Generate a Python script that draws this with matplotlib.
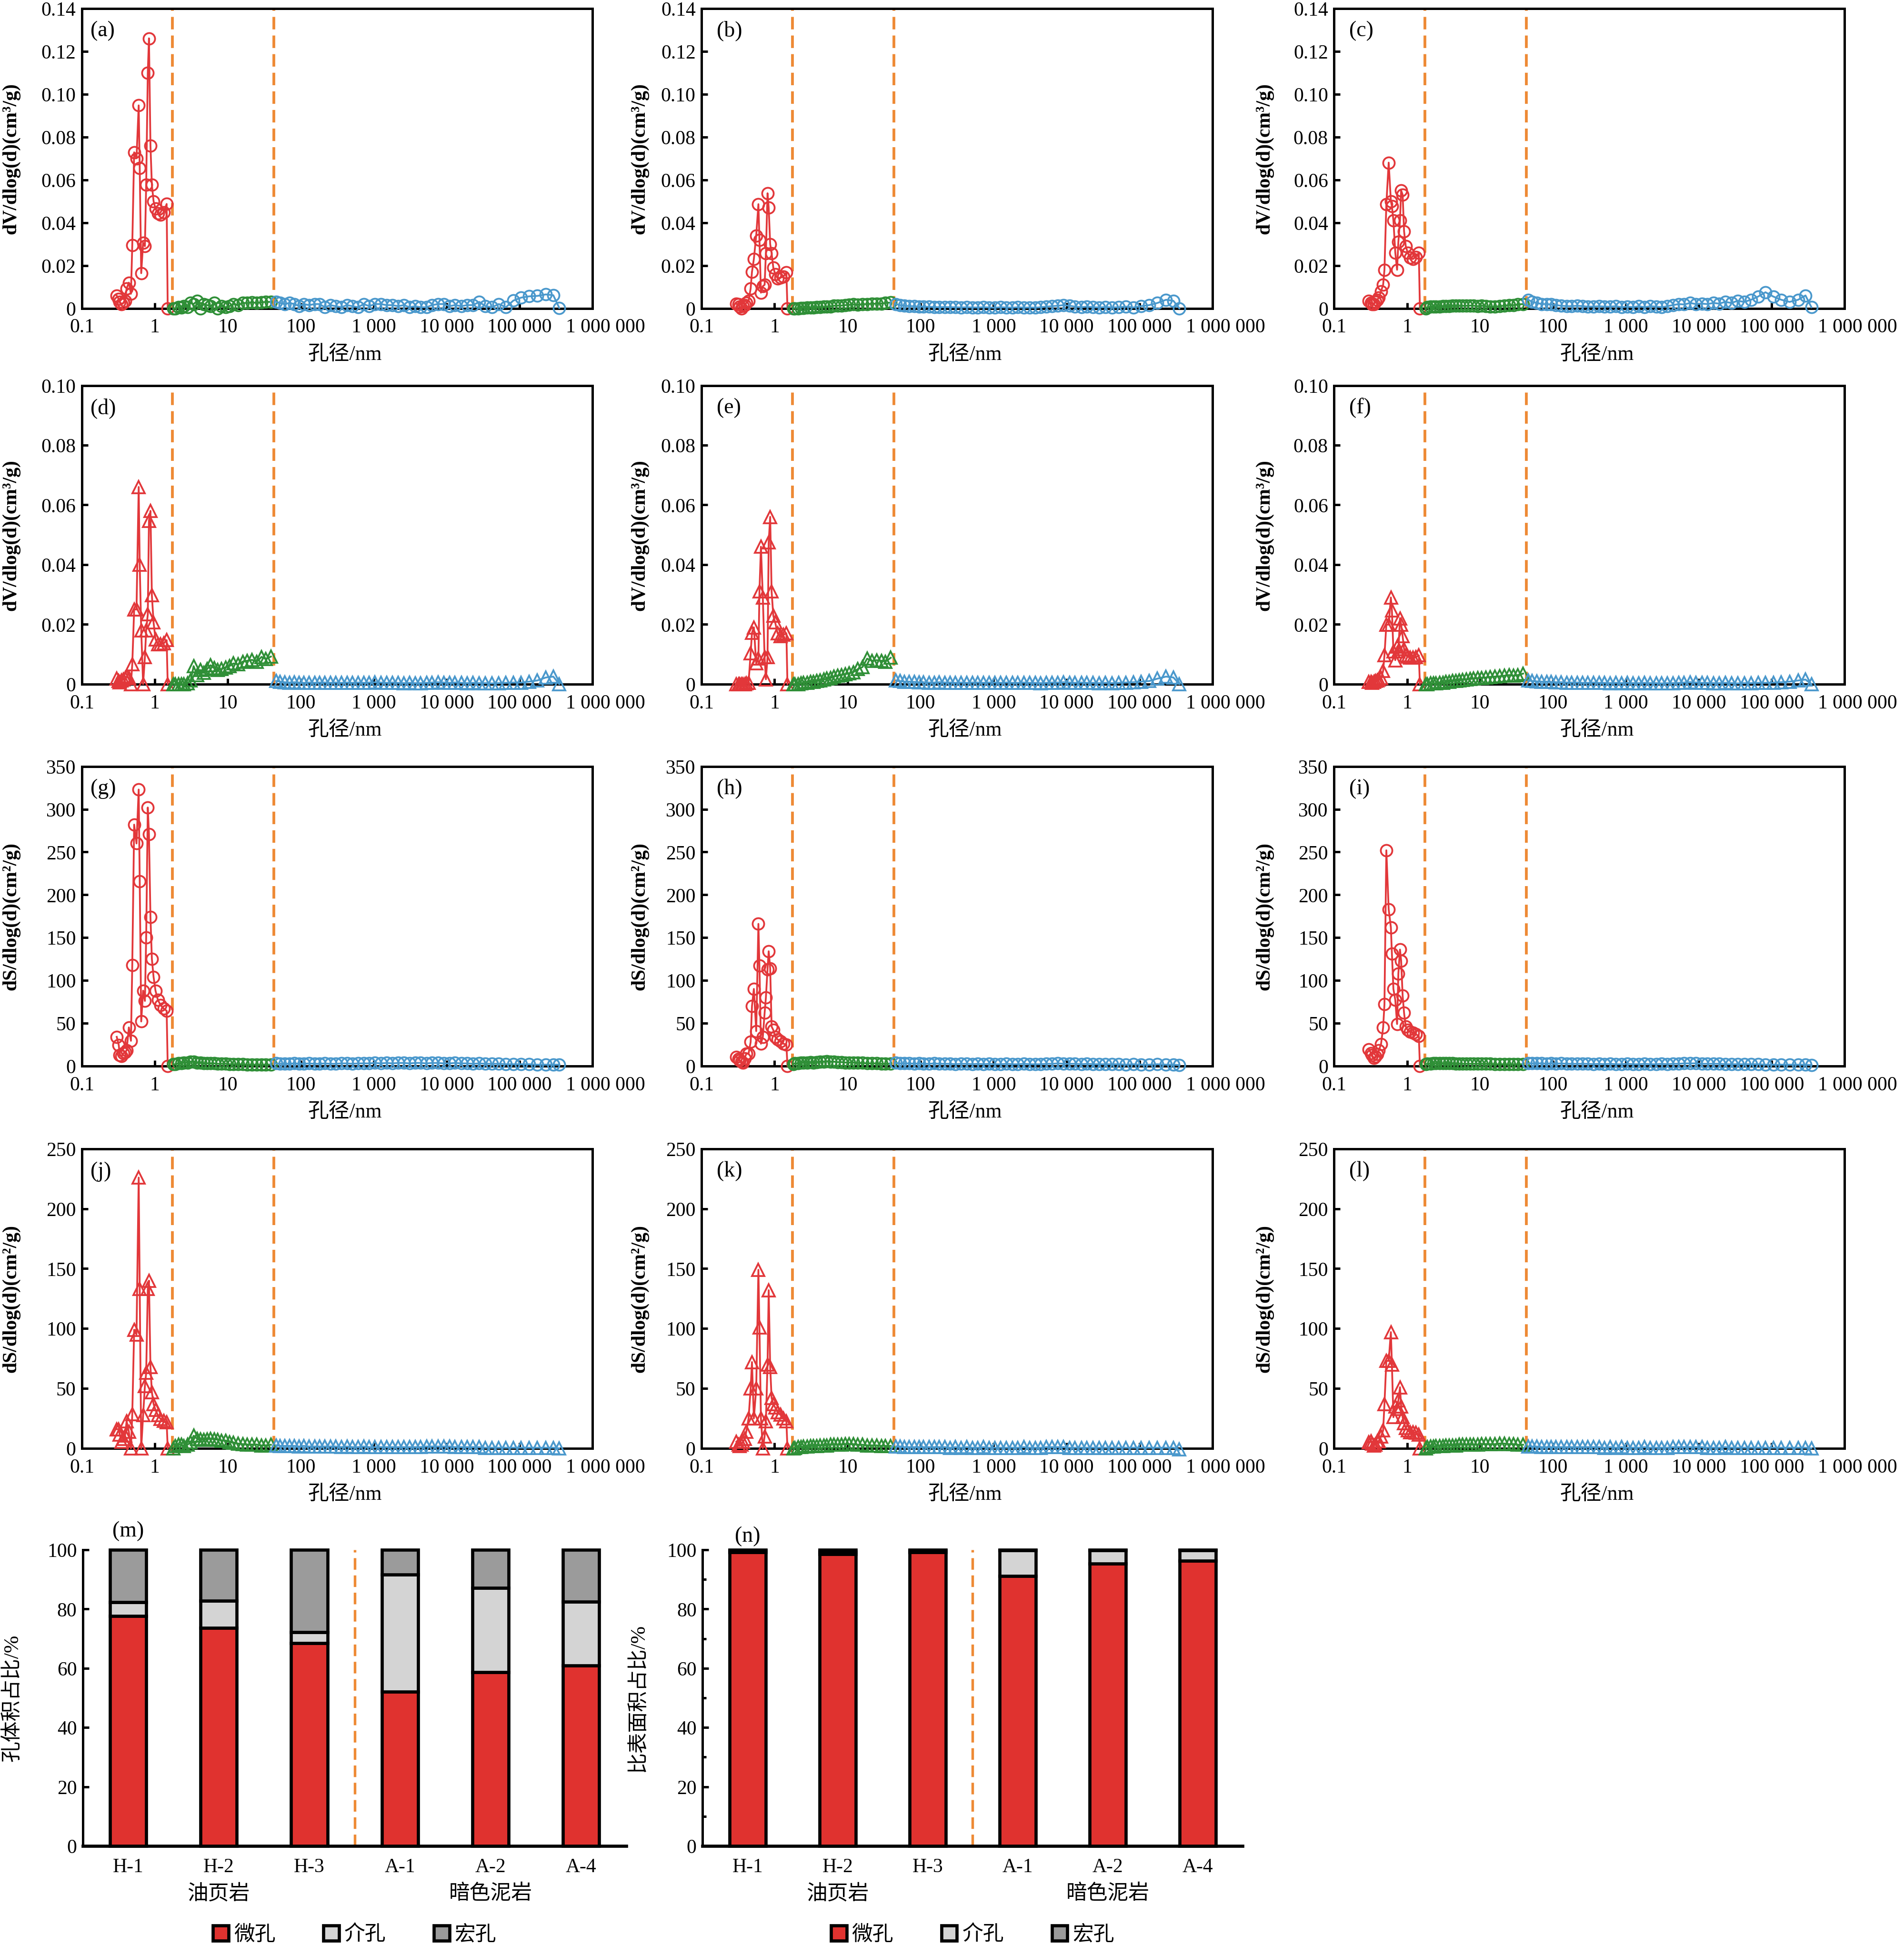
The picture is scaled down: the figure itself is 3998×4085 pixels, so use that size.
import numpy as np
import matplotlib
matplotlib.use('Agg')
import matplotlib.pyplot as plt
from matplotlib.patches import Patch
from matplotlib.ticker import NullLocator, MultipleLocator
import matplotlib.transforms as mtransforms

# fonts: Times-like latin, CJK fallback
plt.rcParams['font.family'] = ['Liberation Serif', 'Noto Sans CJK SC']
plt.rcParams['font.size'] = 10
plt.rcParams['axes.linewidth'] = 1.2
plt.rcParams['axes.unicode_minus'] = False

red = '#E2373A'
green = '#2F8F37'
blue = '#4A98CC'
orange = '#EE8A35'
bar_red = '#E0322F'
bar_light = '#D4D4D4'
bar_dark = '#9B9B9B'

# ---------------- data: pore size distributions ----------------
red_x = [0.30, 0.32, 0.33, 0.35, 0.37, 0.39, 0.41, 0.44, 0.47, 0.49, 0.52, 0.56, 0.60, 0.62, 0.65,
         0.69, 0.73, 0.76, 0.80, 0.83, 0.87, 0.91, 0.96, 1.02, 1.10, 1.20, 1.32, 1.45, 1.50]
green_x = [1.8, 1.9, 2.1, 2.3, 2.5, 2.8, 3.1, 3.4, 3.8, 4.2, 4.7, 5.2, 5.8, 6.5, 7.3, 8.2, 9.3,
           10.5, 12, 13.8, 16, 18.5, 21.5, 25, 29, 33, 39]
blue_x = [46, 52, 60, 70, 82, 95, 110, 130, 155, 180, 215, 255, 300, 360, 430, 510, 610, 730, 870,
          1040, 1250, 1500, 1800, 2150, 2600, 3100, 3700, 4400, 5300, 6300, 7600, 9100, 11000, 13000,
          16000, 19000, 23000, 28000, 34000, 42000, 52000, 65000, 82000, 105000, 135000, 175000,
          230000, 290000, 350000]

# (a) H-1 dV
a_red = [0.0059, 0.0043, 0.0030, 0.0020, 0.0025, 0.0034, 0.0093, 0.0120, 0.0068, 0.0295, 0.0728, 0.0700,
         0.0947, 0.0655, 0.0164, 0.0306, 0.0290, 0.0576, 0.1100, 0.1260, 0.0760, 0.0576, 0.0500, 0.0465,
         0.0444, 0.0436, 0.0447, 0.0487, 0.0]
a_green = [0.0, 0.0, 0.0005, 0.0003, 0.0010, 0.0005, 0.0025, 0.0020, 0.0035, 0.0, 0.0020, 0.0015, 0.0010,
           0.0025, 0.0, 0.0010, 0.0005, 0.0010, 0.0020, 0.0015, 0.0025, 0.0025, 0.0028, 0.0025, 0.0028,
           0.0030, 0.0030]
a_blue = [0.0030, 0.0025, 0.0020, 0.0025, 0.0020, 0.0010, 0.0020, 0.0015, 0.0020, 0.0020,
          0.0005, 0.0015, 0.0010, 0.0005, 0.0015, 0.0010, 0.0005, 0.0020, 0.0010, 0.0020,
          0.0020, 0.0015, 0.0015, 0.0010, 0.0015, 0.0005, 0.0010, 0.0005, 0.0005, 0.0015,
          0.0020, 0.0020, 0.0010, 0.0015, 0.0010, 0.0015, 0.0015, 0.0030, 0.0010, 0.0005,
          0.0020, 0.0005, 0.0036, 0.0050, 0.0056, 0.0058, 0.0065, 0.0061, 0.0002]
# (b) H-2 dV
b_red = [0.0021, 0.0020, 0.0008, 0.0, 0.0010, 0.0015, 0.0025, 0.0035, 0.0093, 0.0170, 0.0230, 0.0340,
         0.0486, 0.0320, 0.0073, 0.0103, 0.0110, 0.0257, 0.0537, 0.0470, 0.0300, 0.0257, 0.0190, 0.0160,
         0.0140, 0.0143, 0.0148, 0.0167, 0.0]
b_green = [0.0, 0.0, 0.0, 0.0002, 0.0002, 0.0003, 0.0004, 0.0004, 0.0005, 0.0006, 0.0007, 0.0008, 0.0009,
           0.0012, 0.0013, 0.0013, 0.0015, 0.0016, 0.0018, 0.0017, 0.0019, 0.0020, 0.0021, 0.0022, 0.0022,
           0.0025, 0.0027]
b_blue = [0.0020, 0.0015, 0.0012, 0.0010, 0.0010, 0.0008, 0.0008, 0.0007, 0.0006, 0.0005,
          0.0006, 0.0005, 0.0005, 0.0004, 0.0005, 0.0004, 0.0004, 0.0005, 0.0004, 0.0003,
          0.0005, 0.0004, 0.0003, 0.0005, 0.0003, 0.0004, 0.0003, 0.0005, 0.0008, 0.0010,
          0.0012, 0.0015, 0.0012, 0.0008, 0.0005, 0.0008, 0.0005, 0.0004, 0.0006, 0.0004,
          0.0005, 0.0008, 0.0004, 0.0010, 0.0015, 0.0025, 0.0040, 0.0035, 0.0]
# (c) H-3 dV
c_red = [0.0035, 0.0025, 0.0020, 0.0020, 0.0030, 0.0040, 0.0050, 0.0080, 0.0110, 0.0180, 0.0486, 0.0680,
         0.0500, 0.0476, 0.0410, 0.0260, 0.0180, 0.0310, 0.0410, 0.0550, 0.0530, 0.0360, 0.0290, 0.0260,
         0.0236, 0.0230, 0.0240, 0.0260, 0.0]
c_green = [0.0, 0.0005, 0.0008, 0.0008, 0.0008, 0.0008, 0.0010, 0.0010, 0.0010, 0.0012, 0.0012, 0.0012,
           0.0012, 0.0012, 0.0013, 0.0012, 0.0010, 0.0012, 0.0010, 0.0008, 0.0008, 0.0010, 0.0012, 0.0015,
           0.0015, 0.0018, 0.0020]
c_blue = [0.0040, 0.0030, 0.0025, 0.0020, 0.0020, 0.0018, 0.0015, 0.0012, 0.0010, 0.0010,
          0.0012, 0.0010, 0.0008, 0.0008, 0.0010, 0.0008, 0.0008, 0.0010, 0.0005, 0.0008,
          0.0005, 0.0010, 0.0005, 0.0010, 0.0008, 0.0005, 0.0010, 0.0015, 0.0020, 0.0018,
          0.0025, 0.0020, 0.0022, 0.0020, 0.0025, 0.0022, 0.0030, 0.0025, 0.0035, 0.0030,
          0.0040, 0.0055, 0.0075, 0.0055, 0.0040, 0.0030, 0.0040, 0.0060, 0.0005]
# (d) A-1 dV
d_red = [0.0019, 0.0010, 0.0006, 0.0012, 0.0015, 0.0020, 0.0025, 0.0020, 0.0, 0.0066, 0.0250, 0.0250,
         0.0660, 0.0400, 0.0180, 0.0, 0.0090, 0.0180, 0.0234, 0.0547, 0.0580, 0.0297, 0.0206, 0.0150,
         0.0134, 0.0134, 0.0136, 0.0147, 0.0]
d_green = [0.0, 0.0, 0.0, 0.0, 0.0, 0.0003, 0.0012, 0.0060, 0.0030, 0.0047, 0.0037, 0.0050, 0.0063,
           0.0053, 0.0047, 0.0050, 0.0056, 0.0060, 0.0069, 0.0066, 0.0075, 0.0078, 0.0081, 0.0075, 0.0091,
           0.0084, 0.0092]
d_blue = [0.0010, 0.0008, 0.0006, 0.0005, 0.0006, 0.0005, 0.0004, 0.0005, 0.0004, 0.0005,
          0.0005, 0.0004, 0.0005, 0.0004, 0.0005, 0.0004, 0.0005, 0.0004, 0.0005, 0.0006,
          0.0005, 0.0004, 0.0005, 0.0004, 0.0003, 0.0004, 0.0003, 0.0003, 0.0004, 0.0005,
          0.0006, 0.0005, 0.0004, 0.0005, 0.0004, 0.0003, 0.0004, 0.0003, 0.0003, 0.0002,
          0.0003, 0.0004, 0.0005, 0.0005, 0.0008, 0.0012, 0.0022, 0.0025, 0.0]
# (e) A-2 dV
e_red = [0.0, 0.0, 0.0, 0.0, 0.0, 0.0, 0.0003, 0.0005, 0.0103, 0.0171, 0.0190, 0.0069, 0.0085, 0.0310,
         0.0460, 0.0290, 0.0090, 0.0016, 0.0090, 0.0475, 0.0560, 0.0310, 0.0229, 0.0206, 0.0170, 0.0160,
         0.0165, 0.0170, 0.0]
e_green = [0.0, 0.0, 0.0, 0.0003, 0.0005, 0.0005, 0.0007, 0.0008, 0.0010, 0.0012, 0.0015, 0.0018, 0.0020,
           0.0025, 0.0028, 0.0030, 0.0033, 0.0036, 0.0040, 0.0050, 0.0057, 0.0085, 0.0078, 0.0080, 0.0078,
           0.0075, 0.0088]
e_blue = [0.0012, 0.0010, 0.0008, 0.0008, 0.0007, 0.0006, 0.0006, 0.0005, 0.0005, 0.0006,
          0.0005, 0.0005, 0.0004, 0.0005, 0.0004, 0.0005, 0.0005, 0.0004, 0.0005, 0.0005,
          0.0004, 0.0005, 0.0004, 0.0004, 0.0005, 0.0004, 0.0004, 0.0003, 0.0004, 0.0005,
          0.0005, 0.0006, 0.0005, 0.0004, 0.0005, 0.0004, 0.0004, 0.0003, 0.0004, 0.0003,
          0.0004, 0.0005, 0.0006, 0.0008, 0.0010, 0.0018, 0.0025, 0.0022, 0.0]
# (f) A-4 dV
f_red = [0.0007, 0.0007, 0.0005, 0.0007, 0.0010, 0.0012, 0.0015, 0.0020, 0.0044, 0.0096, 0.0199, 0.0199,
         0.0290, 0.0246, 0.0110, 0.0080, 0.0125, 0.0110, 0.0220, 0.0199, 0.0160, 0.0118, 0.0096, 0.0092,
         0.0088, 0.0088, 0.0090, 0.0096, 0.0]
f_green = [0.0, 0.0, 0.0002, 0.0002, 0.0003, 0.0004, 0.0005, 0.0007, 0.0008, 0.0010, 0.0011, 0.0012,
           0.0014, 0.0015, 0.0017, 0.0018, 0.0020, 0.0021, 0.0022, 0.0024, 0.0025, 0.0026, 0.0028, 0.0030,
           0.0028, 0.0030, 0.0035]
f_blue = [0.0012, 0.0010, 0.0009, 0.0008, 0.0008, 0.0007, 0.0006, 0.0006, 0.0005, 0.0005,
          0.0005, 0.0004, 0.0004, 0.0005, 0.0004, 0.0004, 0.0003, 0.0004, 0.0003, 0.0004,
          0.0003, 0.0003, 0.0004, 0.0003, 0.0003, 0.0002, 0.0003, 0.0003, 0.0004, 0.0005,
          0.0006, 0.0005, 0.0004, 0.0004, 0.0003, 0.0003, 0.0004, 0.0003, 0.0002, 0.0003,
          0.0003, 0.0004, 0.0004, 0.0005, 0.0006, 0.0008, 0.0012, 0.0015, 0.0]
# (g) H-1 dS
g_red = [34, 24.4, 12.4, 11.3, 14.7, 16, 18.1, 45, 29.4, 118, 282, 260, 323, 216, 52, 88, 76, 150, 302,
         271, 174, 125, 104, 88, 77, 71, 67, 64.5, 0]
g_green = [2, 2, 3, 3, 4, 4, 5, 5, 4, 4, 3, 3, 3, 3, 2.5, 2.5, 2.5, 2, 2, 2, 2, 1.5, 1.5, 1.5, 1.5, 1.5, 1.5]
g_blue = [3, 2.5, 2.5, 2.5, 3, 2.5, 2.5, 3, 2.5, 2.5,
          3, 2.5, 2.5, 3, 3, 2.5, 3, 3, 3, 3.5,
          3, 3.5, 3, 3.5, 3.5, 3, 3.5, 3.5, 3, 3.5,
          3.5, 3, 3, 3.5, 3, 3, 2.5, 3, 2.5, 2.5,
          2.5, 2, 2, 2, 2, 1.5, 1.5, 1.5, 1.5]
# (h) H-2 dS
h_red = [10.4, 8, 6.4, 5, 4, 9, 14.4, 14.4, 28, 70, 90, 40.7, 166, 117, 26, 34, 62, 80, 113, 134, 114,
         46, 42, 34, 31, 29, 26, 25, 0]
h_green = [2, 3, 3, 3.5, 4, 4, 4.5, 4, 4.5, 5, 5, 5.5, 5, 5, 4.5, 4.5, 4, 4, 4, 3.5, 3.5, 3, 3, 3, 2.5,
           2.5, 2.5]
h_blue = [3.5, 3, 3, 3, 2.5, 3, 2.5, 2.5, 3, 2.5,
          2.5, 2.5, 2, 2.5, 2.5, 2, 2.5, 2, 2.5, 2,
          2, 2.5, 2, 2, 2.5, 2, 2, 2, 2.5, 2.5,
          3, 2.5, 2.5, 2.5, 2, 2.5, 2, 2, 2, 2,
          2, 1.5, 2, 1.5, 1.5, 2, 1.5, 1.5, 1]
# (i) H-3 dS
i_red = [19.5, 15, 12.9, 9.3, 11, 14, 18, 25.7, 45, 72, 252, 183, 162, 131, 90, 77, 49, 108, 136, 123,
         82, 62, 46, 42, 40, 39, 37, 35, 0]
i_green = [2, 2.5, 2.5, 3, 3, 3, 3, 3, 3, 3, 2.5, 2.5, 2.5, 2.5, 2.5, 2.5, 2.5, 2.5, 2.5, 2.5, 2, 2, 2,
           2, 2, 2, 2]
i_blue = [3, 3, 3, 3, 2.5, 3, 2.5, 3, 2.5, 2.5,
          2.5, 2.5, 2.5, 2, 2.5, 2, 2.5, 2, 2, 2.5,
          2, 2, 2.5, 2, 2, 2.5, 2, 2.5, 2.5, 3,
          3, 3, 2.5, 2.5, 2.5, 2.5, 2, 2, 2, 2,
          2, 2, 1.5, 1.5, 1.5, 1.5, 1.5, 1.5, 1]
# (j) A-1 dS
j_red = [16, 16, 11.4, 5.7, 8, 10.5, 22.7, 13.8, 0, 28.4, 99, 95, 226, 133, 0, 27.6, 52, 63, 133, 140,
         68, 47, 37, 32, 27.6, 24.4, 23, 22, 0]
j_green = [0, 2, 3, 3, 2, 3, 5, 10.5, 8, 7.5, 7.3, 7.5, 8, 7.5, 7.3, 6.5, 6.5, 5, 4.9, 4, 3.5, 3.2, 3.2,
           3.2, 2.4, 2.5, 3]
j_blue = [2.5, 2, 2, 2, 2, 1.5, 2, 1.5, 1.5, 1.5,
          1.5, 1.5, 1.5, 1, 1.5, 1, 1, 1.5, 1, 1,
          1, 1, 1, 1, 1, 1, 1, 1, 1.5, 1.5,
          1.5, 1.5, 1.5, 1, 1, 1, 1, 1, 0.5, 0.5,
          0.5, 0.5, 0.5, 0.5, 0.5, 0.5, 0.5, 0.5, 0]
# (k) A-2 dS
k_red = [5.6, 3, 2, 3, 5.6, 8, 14, 25, 50, 72, 25, 50, 149, 101, 25, 0, 10, 22.5, 70, 132, 68, 42, 37,
         34, 30, 28, 25, 22.5, 0]
k_green = [0, 0.5, 1, 1, 1.5, 1.5, 2, 2, 2, 2.5, 2.5, 2.5, 3, 3, 3, 3, 3.5, 3.5, 3.5, 3, 3, 2.5, 2.5,
           2.5, 2, 2, 2]
k_blue = [1.5, 1.5, 1, 1, 1, 1, 1, 1, 1, 1,
          1, 0.5, 1, 0.5, 1, 0.5, 0.5, 1, 0.5, 0.5,
          0.5, 0.5, 0.5, 0.5, 1, 0.5, 0.5, 0.5, 1, 1,
          1, 1, 0.5, 0.5, 0.5, 0.5, 0.5, 0.5, 0.5, 0.5,
          0.5, 0.5, 0.5, 0.5, 0.5, 0.5, 0.5, 0.5, -1]
# (l) A-4 dS
l_red = [5, 6, 4, 2.5, 3, 6, 6, 10, 15, 37, 73, 73, 97, 70, 26, 35, 33, 40, 51, 35, 26, 21, 17, 15,
         13.5, 13.5, 13, 11.6, 0]
l_green = [0, 1, 1.5, 1.5, 2, 2, 2, 2.5, 2.5, 2.5, 2.5, 3, 3, 3, 3, 3, 3, 3.5, 3.5, 3.5, 3.5, 4, 4,
           3.5, 3.5, 3, 3]
l_blue = [1.5, 1.5, 1.5, 1, 1, 1, 1, 1, 1, 1,
          1, 1, 1, 1, 1, 0.5, 1, 0.5, 1, 0.5,
          0.5, 0.5, 1, 0.5, 0.5, 0.5, 0.5, 1, 1, 1,
          1, 1, 1, 0.5, 0.5, 0.5, 1, 0.5, 0.5, 0.5,
          0.5, 0.5, 0.5, 0.5, 0.5, 0.5, 0.5, 0.5, 0]

# pore class boundaries (dashed lines)
bounds = [1.75, 43]

x_ticks = [0.1, 1, 10, 100, 1000, 10000, 100000, 1000000]
x_ticklabels = ['0.1', '1', '10', '100', '1 000', '10 000', '100 000', '']

dv_ticks_1 = [0, 0.02, 0.04, 0.06, 0.08, 0.10, 0.12, 0.14]
dv_labels_1 = ['0', '0.02', '0.04', '0.06', '0.08', '0.10', '0.12', '0.14']
dv_ticks_2 = [0, 0.02, 0.04, 0.06, 0.08, 0.10]
dv_labels_2 = ['0', '0.02', '0.04', '0.06', '0.08', '0.10']
ds_ticks_1 = [0, 50, 100, 150, 200, 250, 300, 350]
ds_ticks_2 = [0, 50, 100, 150, 200, 250]

# ---------------- data: pore proportions ----------------
samples = ['H-1', 'H-2', 'H-3', 'A-1', 'A-2', 'A-4']
groups = ['油页岩', '暗色泥岩']
classes = ['微孔', '介孔', '宏孔']
vol_micro = [77.6, 73.6, 68.5, 52.0, 58.6, 60.9]
vol_meso = [4.7, 9.2, 3.7, 39.7, 28.6, 21.6]
vol_macro = [17.7, 17.2, 27.8, 8.3, 12.8, 17.5]
area_micro = [99.1, 98.6, 99.1, 91.1, 95.4, 96.3]
area_meso = [0.5, 0.8, 0.5, 8.8, 4.5, 3.6]
area_macro = [0.4, 0.6, 0.4, 0.1, 0.1, 0.1]

# ---------------- layout (pixels) ----------------
W, H = 3998, 4085
fig = plt.figure(figsize=((W + 0.5) / 300, (H + 0.5) / 300), dpi=300)


def rect(left, top, right, bottom):
    return [left / W, 1 - bottom / H, (right - left) / W, (bottom - top) / H]


col_left = [172, 1473, 2801]
col_right = [1244, 2546, 3873]
row_top = [18, 810, 1610, 2413]
row_bottom = [648, 1437, 2239, 3042]
ylab_off = [-149, -130, -146]
letter_off = [18, 32, 32]

panels = [
    ('(a)', a_red, a_green, a_blue), ('(b)', b_red, b_green, b_blue), ('(c)', c_red, c_green, c_blue),
    ('(d)', d_red, d_green, d_blue), ('(e)', e_red, e_green, e_blue), ('(f)', f_red, f_green, f_blue),
    ('(g)', g_red, g_green, g_blue), ('(h)', h_red, h_green, h_blue), ('(i)', i_red, i_green, i_blue),
    ('(j)', j_red, j_green, j_blue), ('(k)', k_red, k_green, k_blue), ('(l)', l_red, l_green, l_blue),
]
row_cfg = [
    (0.14, dv_ticks_1, dv_labels_1, 'dV/dlog(d)(cm³/g)', 'o'),
    (0.10, dv_ticks_2, dv_labels_2, 'dV/dlog(d)(cm³/g)', '^'),
    (350, ds_ticks_1, [str(t) for t in ds_ticks_1], 'dS/dlog(d)(cm²/g)', 'o'),
    (250, ds_ticks_2, [str(t) for t in ds_ticks_2], 'dS/dlog(d)(cm²/g)', '^'),
]

for k, (letter, yr, yg, yb) in enumerate(panels):
    r, c = divmod(k, 3)
    ymax, yt, ytl, ylab, mk = row_cfg[r]
    ax = fig.add_axes(rect(col_left[c], row_top[r], col_right[c], row_bottom[r]))
    w_px = col_right[c] - col_left[c]
    h_px = row_bottom[r] - row_top[r]
    ms = 5.8 if mk == 'o' else 6.2
    for xs, ys, col in ((red_x, yr, red), (green_x, yg, green), (blue_x, yb, blue)):
        ax.plot(xs, ys, color=col, lw=0.9, marker=mk, ms=ms, mfc='none', mec=col, mew=0.9,
                clip_on=False, zorder=3)
    for b in bounds:
        ax.axvline(b, color=orange, lw=1.4, ls=(0, (4.5, 2.2)), zorder=2)
    ax.set_xscale('log')
    ax.set_xlim(0.1, 1e6)
    ax.set_xticks(x_ticks, x_ticklabels)
    ax.xaxis.set_minor_locator(NullLocator())
    ax.set_ylim(0, ymax)
    ax.set_yticks(yt, ytl)
    ax.tick_params(axis='both', direction='in', length=3, width=1.2, top=False, right=False)
    ax.tick_params(axis='x', pad=5)
    ax.tick_params(axis='y', pad=3)
    ax.annotate('1 000 000', xy=(1e6, 0), xycoords=('data', 'axes fraction'), xytext=(6.5, -5),
                textcoords='offset points', ha='center', va='top', annotation_clip=False)
    ax.set_xlabel('孔径/nm', fontsize=10.5)
    ax.xaxis.label.set_va('center')
    ax.xaxis.set_label_coords(0.515, -97 / h_px)
    ax.set_ylabel(ylab, fontweight='bold')
    ax.yaxis.label.set_va('center')
    ax.yaxis.set_label_coords(ylab_off[c] / w_px, 0.5)
    ax.text(letter_off[c] / w_px, 1 - 47 / h_px, letter, transform=ax.transAxes,
            ha='left', va='center', fontsize=11)

# ---------------- bar panels ----------------
bar_panels = [
    ('(m)', vol_micro, vol_meso, vol_macro, '孔体积占比/%', (174, 1315), -0.129, 1.064, False),
    ('(n)', area_micro, area_meso, area_macro, '比表面积占比/%', (1475, 2609), -0.118, 1.046, True),
]
xpos = np.arange(len(samples))
for letter, mi, me, ma, ylab, (l, rr), ylx, lty, minor in bar_panels:
    ax = fig.add_axes(rect(l, 3255, rr, 3877))
    mi = np.array(mi)
    me = np.array(me)
    ma = np.array(ma)
    ax.bar(xpos, mi, width=0.4, color=bar_red, edgecolor='black', lw=1.6, clip_on=False, zorder=3)
    ax.bar(xpos, me, width=0.4, bottom=mi, color=bar_light, edgecolor='black', lw=1.6,
           clip_on=False, zorder=3)
    ax.bar(xpos, ma, width=0.4, bottom=mi + me, color=bar_dark, edgecolor='black', lw=1.6,
           clip_on=False, zorder=3)
    ax.axvline(2.5, color=orange, lw=1.3, ls=(0, (4.5, 2.2)), zorder=2)
    ax.set_xlim(-0.5, 5.5)
    ax.set_ylim(0, 100)
    ax.spines['top'].set_visible(False)
    ax.spines['right'].set_visible(False)
    ax.spines['left'].set_linewidth(1.2)
    ax.spines['bottom'].set_linewidth(1.6)
    ax.set_xticks(xpos, samples)
    ax.set_yticks([0, 20, 40, 60, 80, 100])
    if minor:
        ax.yaxis.set_minor_locator(MultipleLocator(10))
        ax.tick_params(axis='y', which='minor', direction='in', length=2, width=1.2)
    ax.tick_params(axis='y', direction='in', length=3, width=1.2, pad=3)
    ax.tick_params(axis='x', length=0, pad=6)
    ax.set_ylabel(ylab, fontsize=10.5)
    ax.yaxis.label.set_va('center')
    ax.yaxis.set_label_coords(ylx, 0.5)
    trans = mtransforms.blended_transform_factory(ax.transData, ax.transAxes)
    ax.text(1, -0.161, groups[0], transform=trans, ha='center', va='center', fontsize=10.5)
    ax.text(4, -0.161, groups[1], transform=trans, ha='center', va='center', fontsize=10.5)
    ax.text(0, lty, letter, transform=trans, ha='center', va='center', fontsize=11)
    handles = [Patch(facecolor=fc, edgecolor='black', lw=1.6) for fc in (bar_red, bar_light, bar_dark)]
    ax.legend(handles, classes, loc='center', bbox_to_anchor=(0.5, -0.30), ncol=3, frameon=False,
              handlelength=0.75, handleheight=0.75, handletextpad=0.25, columnspacing=2.3,
              borderaxespad=0, fontsize=10.5)

fig.savefig('out.png', dpi=300)
